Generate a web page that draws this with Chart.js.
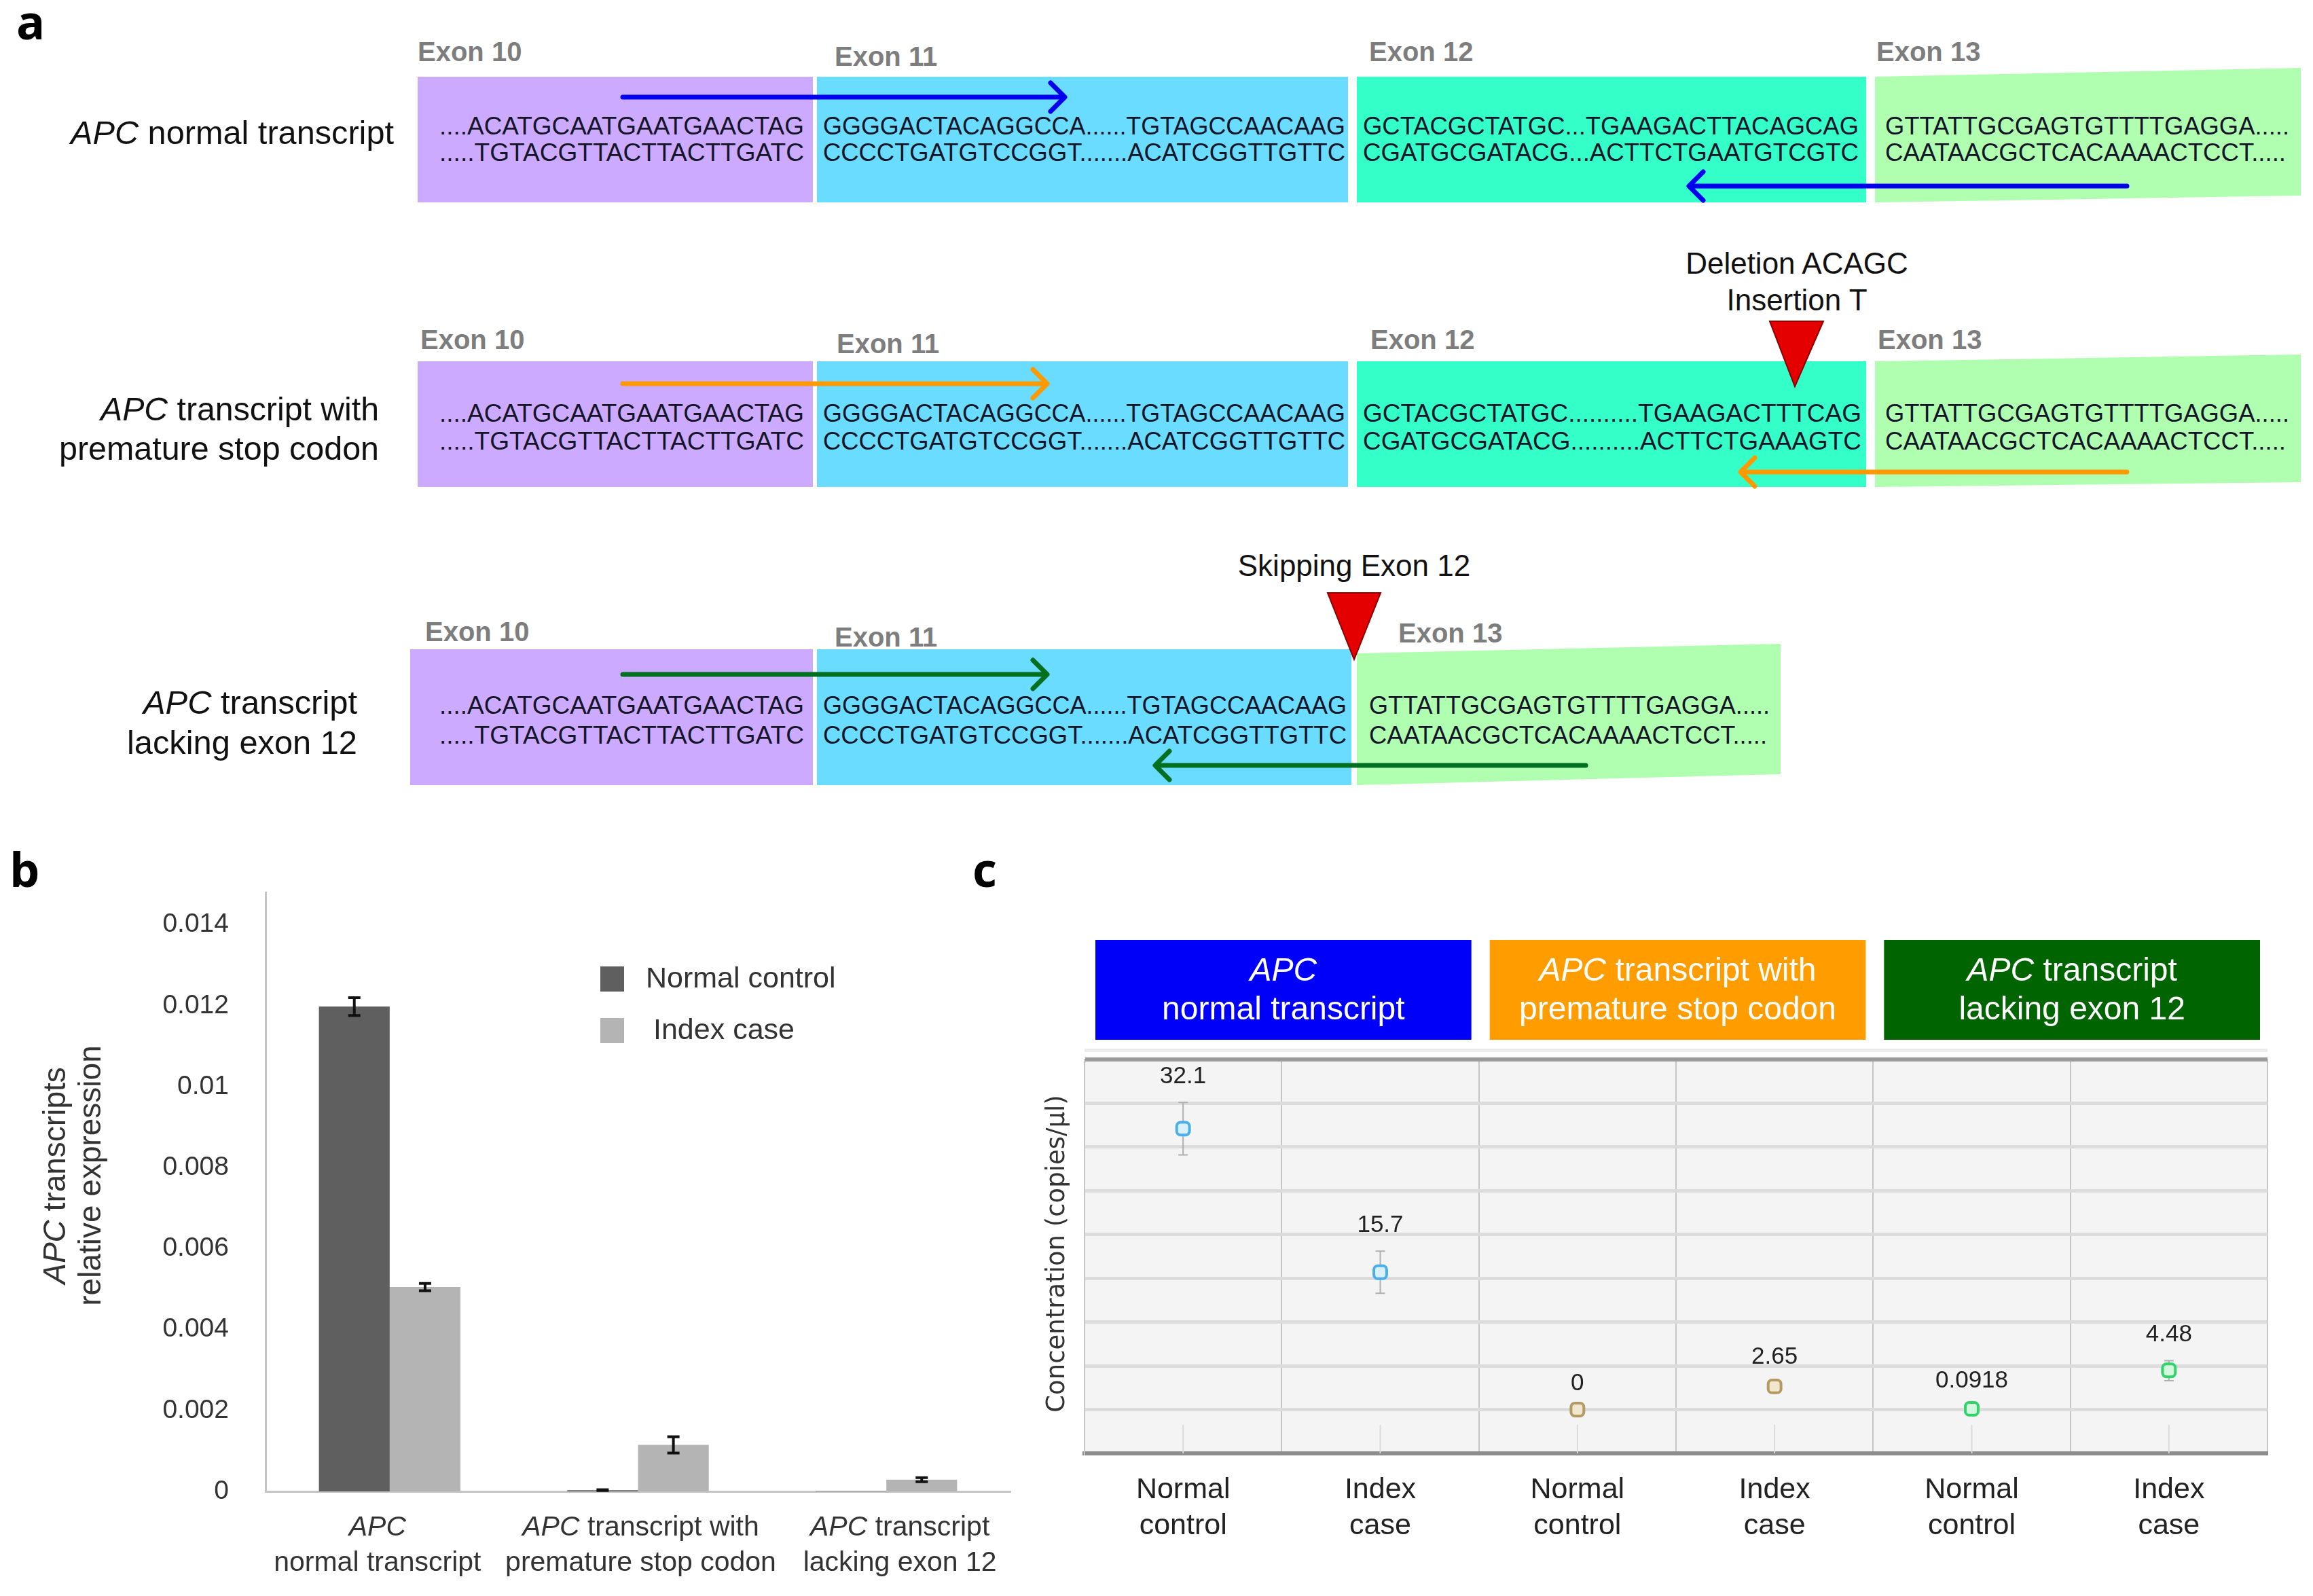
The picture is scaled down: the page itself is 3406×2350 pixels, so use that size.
<!DOCTYPE html>
<html>
<head>
<meta charset="utf-8">
<script src="https://cdn.jsdelivr.net/npm/chart.js@4.4.1/dist/chart.umd.min.js"></script>
<style>
  body { margin: 0; width: 3406px; height: 2350px; background: #fff; position: relative; overflow: hidden;
         font-family: "Liberation Sans", Arial, sans-serif; }
  .tag { position: absolute; font-family: "Open Sans", sans-serif; font-weight: 700; font-size: 70px; line-height: 1; color: #000; }
  #diagram { position: absolute; left: 0; top: 0; }
  #wrapB { position: absolute; left: 0; top: 1250px; width: 1530px; height: 1100px; }
  #wrapC { position: absolute; left: 1420px; top: 1250px; width: 1986px; height: 1100px; }
</style>
</head>
<body>

<svg id="diagram" width="3406" height="1180" viewBox="0 0 3406 1180" font-family="Liberation Sans, Arial, sans-serif">
  <!-- row 1: normal transcript -->
  <text x="104" y="195" dominant-baseline="central" font-size="48" fill="#111" textLength="476" lengthAdjust="spacingAndGlyphs"><tspan font-style="italic">APC</tspan> normal transcript</text>
  <rect x="615" y="113" width="582" height="185" fill="#ccaaff"/>
  <rect x="1203" y="113" width="782" height="185" fill="#6adcff"/>
  <rect x="1998" y="113" width="750" height="185" fill="#35ffc8"/>
  <polygon points="2761,113 3388,100 3388,288 2761,298" fill="#b0ffb0"/>
  <g font-size="40" font-weight="bold" fill="#7d7d7d" dominant-baseline="central">
    <text x="615" y="76">Exon 10</text><text x="1229" y="83">Exon 11</text>
    <text x="2016" y="76">Exon 12</text><text x="2763" y="76">Exon 13</text>
  </g>
  <g font-size="37" fill="#15152a" dominant-baseline="central">
    <text x="647" y="185" textLength="537" lengthAdjust="spacingAndGlyphs">....ACATGCAATGAATGAACTAG</text>
    <text x="647" y="224" textLength="537" lengthAdjust="spacingAndGlyphs">.....TGTACGTTACTTACTTGATC</text>
    <text x="1212" y="185" textLength="769" lengthAdjust="spacingAndGlyphs">GGGGACTACAGGCCA......TGTAGCCAACAAG</text>
    <text x="1212" y="224" textLength="769" lengthAdjust="spacingAndGlyphs">CCCCTGATGTCCGGT.......ACATCGGTTGTTC</text>
    <text x="2007" y="185" textLength="730" lengthAdjust="spacingAndGlyphs">GCTACGCTATGC...TGAAGACTTACAGCAG</text>
    <text x="2007" y="224" textLength="730" lengthAdjust="spacingAndGlyphs">CGATGCGATACG...ACTTCTGAATGTCGTC</text>
    <text x="2776" y="185" textLength="595" lengthAdjust="spacingAndGlyphs">GTTATTGCGAGTGTTTTGAGGA.....</text>
    <text x="2776" y="224" textLength="590" lengthAdjust="spacingAndGlyphs">CAATAACGCTCACAAAACTCCT.....</text>
  </g>
  <g stroke="#0000ee" stroke-width="7" fill="none" stroke-linecap="round" stroke-linejoin="round">
    <line x1="917" y1="143" x2="1566" y2="143"/><polyline points="1547,122 1568,143 1547,164"/>
    <line x1="3132" y1="274" x2="2489" y2="274"/><polyline points="2508,253 2487,274 2508,295"/>
  </g>

  <!-- row 2: premature stop codon -->
  <text x="148" y="602" dominant-baseline="central" font-size="48" fill="#111" textLength="410" lengthAdjust="spacingAndGlyphs"><tspan font-style="italic">APC</tspan> transcript with</text>
  <text x="87" y="660" dominant-baseline="central" font-size="48" fill="#111" textLength="471" lengthAdjust="spacingAndGlyphs">premature stop codon</text>
  <rect x="615" y="532" width="582" height="185" fill="#ccaaff"/>
  <rect x="1203" y="532" width="782" height="185" fill="#6adcff"/>
  <rect x="1998" y="532" width="750" height="185" fill="#35ffc8"/>
  <polygon points="2761,532 3388,522 3388,710 2761,717" fill="#b0ffb0"/>
  <g font-size="40" font-weight="bold" fill="#7d7d7d" dominant-baseline="central">
    <text x="619" y="500">Exon 10</text><text x="1232" y="506">Exon 11</text>
    <text x="2018" y="500">Exon 12</text><text x="2765" y="500">Exon 13</text>
  </g>
  <g font-size="37" fill="#15152a" dominant-baseline="central">
    <text x="647" y="608" textLength="537" lengthAdjust="spacingAndGlyphs">....ACATGCAATGAATGAACTAG</text>
    <text x="647" y="649" textLength="537" lengthAdjust="spacingAndGlyphs">.....TGTACGTTACTTACTTGATC</text>
    <text x="1212" y="608" textLength="769" lengthAdjust="spacingAndGlyphs">GGGGACTACAGGCCA......TGTAGCCAACAAG</text>
    <text x="1212" y="649" textLength="769" lengthAdjust="spacingAndGlyphs">CCCCTGATGTCCGGT.......ACATCGGTTGTTC</text>
    <text x="2007" y="608" textLength="734" lengthAdjust="spacingAndGlyphs">GCTACGCTATGC..........TGAAGACTTTCAG</text>
    <text x="2007" y="649" textLength="734" lengthAdjust="spacingAndGlyphs">CGATGCGATACG..........ACTTCTGAAAGTC</text>
    <text x="2776" y="608" textLength="595" lengthAdjust="spacingAndGlyphs">GTTATTGCGAGTGTTTTGAGGA.....</text>
    <text x="2776" y="649" textLength="590" lengthAdjust="spacingAndGlyphs">CAATAACGCTCACAAAACTCCT.....</text>
  </g>
  <g stroke="#ff9900" stroke-width="7" fill="none" stroke-linecap="round" stroke-linejoin="round">
    <line x1="917" y1="565" x2="1540" y2="565"/><polyline points="1521,544 1542,565 1521,586"/>
    <line x1="3132" y1="695" x2="2565" y2="695"/><polyline points="2584,674 2563,695 2584,716"/>
  </g>
  <polygon points="2606,473 2685,473 2643,569" fill="#e40000" stroke="#8a0000" stroke-width="2"/>
  <g font-size="44" fill="#111" text-anchor="middle" dominant-baseline="central">
    <text x="2646" y="387">Deletion ACAGC</text>
    <text x="2646" y="441">Insertion T</text>
  </g>

  <!-- row 3: lacking exon 12 -->
  <text x="211" y="1034" dominant-baseline="central" font-size="48" fill="#111" textLength="315" lengthAdjust="spacingAndGlyphs"><tspan font-style="italic">APC</tspan> transcript</text>
  <text x="187" y="1093" dominant-baseline="central" font-size="48" fill="#111" textLength="339" lengthAdjust="spacingAndGlyphs">lacking exon 12</text>
  <rect x="604" y="956" width="593" height="200" fill="#ccaaff"/>
  <rect x="1203" y="956" width="787" height="200" fill="#6adcff"/>
  <polygon points="1998,962 2622,948 2622,1140 1998,1156" fill="#b0ffb0"/>
  <g font-size="40" font-weight="bold" fill="#7d7d7d" dominant-baseline="central">
    <text x="626" y="930">Exon 10</text><text x="1229" y="938">Exon 11</text>
    <text x="2059" y="932">Exon 13</text>
  </g>
  <g font-size="37" fill="#15152a" dominant-baseline="central">
    <text x="647" y="1038" textLength="537" lengthAdjust="spacingAndGlyphs">....ACATGCAATGAATGAACTAG</text>
    <text x="647" y="1082" textLength="537" lengthAdjust="spacingAndGlyphs">.....TGTACGTTACTTACTTGATC</text>
    <text x="1212" y="1038" textLength="771" lengthAdjust="spacingAndGlyphs">GGGGACTACAGGCCA......TGTAGCCAACAAG</text>
    <text x="1212" y="1082" textLength="771" lengthAdjust="spacingAndGlyphs">CCCCTGATGTCCGGT.......ACATCGGTTGTTC</text>
    <text x="2016" y="1038" textLength="590" lengthAdjust="spacingAndGlyphs">GTTATTGCGAGTGTTTTGAGGA.....</text>
    <text x="2016" y="1082" textLength="586" lengthAdjust="spacingAndGlyphs">CAATAACGCTCACAAAACTCCT.....</text>
  </g>
  <g stroke="#007020" stroke-width="7" fill="none" stroke-linecap="round" stroke-linejoin="round">
    <line x1="917" y1="993" x2="1540" y2="993"/><polyline points="1521,972 1542,993 1521,1014"/>
    <line x1="2335" y1="1127" x2="1703" y2="1127"/><polyline points="1722,1106 1701,1127 1722,1148"/>
  </g>
  <polygon points="1955,873 2033,873 1994,971" fill="#e40000" stroke="#8a0000" stroke-width="2"/>
  <text x="1994" y="832" font-size="44" fill="#111" text-anchor="middle" dominant-baseline="central">Skipping Exon 12</text>
</svg>

<div class="tag" style="left:24px;top:-4px;">a</div>
<div class="tag" style="left:14px;top:1244px;">b</div>
<div class="tag" style="left:1432px;top:1244px;">c</div>

<div id="wrapB"><canvas id="chartB" width="1530" height="1100"></canvas></div>
<div id="wrapC"><canvas id="chartC" width="1986" height="1100"></canvas></div>

<script>
// ---- panel b : relative expression (qPCR) ----
const transcripts = ['APC normal transcript', 'APC transcript with premature stop codon', 'APC transcript lacking exon 12'];
const firstLineRest = ['', ' transcript with', ' transcript'];   // follows the italic "APC"
const secondLine = ['normal transcript', 'premature stop codon', 'lacking exon 12'];

const normalControl = [0.01198, 0.00003, 0.00001];
const normalControlErr = [0.00022, 0.00001, 0];
const indexCase = [0.00505, 0.00115, 0.00029];
const indexCaseErr = [0.00009, 0.0002, 0.00005];

const expressionTicks = [0, 0.002, 0.004, 0.006, 0.008, 0.01, 0.012, 0.014];
const expressionTickLabels = ['0', '0.002', '0.004', '0.006', '0.008', '0.01', '0.012', '0.014'];

// ---- panel c : droplet digital PCR concentrations ----
const samples = [['Normal', 'control'], ['Index', 'case'], ['Normal', 'control'], ['Index', 'case'], ['Normal', 'control'], ['Index', 'case']];
const concentration = [32.1, 15.7, 0, 2.65, 0.0918, 4.48];
const concLow = [29.1, 13.3, 0, 2.25, 0, 3.3];
const concHigh = [35.1, 18.1, 0, 3.05, 0.3, 5.6];
const concText = ['32.1', '15.7', '0', '2.65', '0.0918', '4.48'];
const concTicks = [-5, 0, 5, 10, 15, 20, 25, 30, 35, 40];

const FONT = '"Liberation Sans", Arial, sans-serif';
Chart.defaults.font.family = FONT;
Chart.defaults.color = '#222';

function drawRich(ctx, parts, x, y, size, color) {
  ctx.save();
  ctx.fillStyle = color;
  ctx.textBaseline = 'middle';
  ctx.textAlign = 'left';
  const fonts = parts.map(p => (p[1] ? 'italic ' : '') + size + 'px ' + FONT);
  let total = 0;
  parts.forEach((p, i) => { ctx.font = fonts[i]; total += ctx.measureText(p[0]).width; });
  let cx = x - total / 2;
  parts.forEach((p, i) => { ctx.font = fonts[i]; ctx.fillText(p[0], cx, y); cx += ctx.measureText(p[0]).width; });
  ctx.restore();
}

const labelShift = [-18, 4, 20];

const barExtras = {
  id: 'barExtras',
  afterDatasetsDraw(chart) {
    const { ctx } = chart;
    const y = chart.scales.y;
    const errs = [normalControlErr, indexCaseErr];
    chart.data.datasets.forEach((ds, i) => {
      chart.getDatasetMeta(i).data.forEach((bar, j) => {
        const e = errs[i][j];
        if (!e) return;
        const top = y.getPixelForValue(ds.data[j] + e);
        const bot = y.getPixelForValue(ds.data[j] - e);
        ctx.save();
        ctx.strokeStyle = '#111';
        ctx.lineWidth = 4;
        ctx.beginPath();
        ctx.moveTo(bar.x, top); ctx.lineTo(bar.x, bot);
        ctx.moveTo(bar.x - 9, top); ctx.lineTo(bar.x + 9, top);
        ctx.moveTo(bar.x - 9, bot); ctx.lineTo(bar.x + 9, bot);
        ctx.stroke();
        ctx.restore();
      });
    });
  },
  afterDraw(chart) {
    const { ctx, chartArea } = chart;
    const x = chart.scales.x;
    // category labels
    transcripts.forEach((t, i) => {
      const cx = x.getPixelForValue(i) + labelShift[i];
      drawRich(ctx, [['APC', true], [firstLineRest[i], false]], cx, chartArea.bottom + 54, 41, '#333');
      drawRich(ctx, [[secondLine[i], false]], cx, chartArea.bottom + 106, 41, '#333');
    });
    // legend
    chart.data.datasets.forEach((ds, i) => {
      const lx = chartArea.left + 493;
      const ly = chartArea.top + 109 + i * 76;
      ctx.save();
      ctx.fillStyle = ds.backgroundColor;
      ctx.fillRect(lx, ly, 35, 37);
      ctx.fillStyle = '#333';
      ctx.font = '43px ' + FONT;
      ctx.textBaseline = 'middle';
      ctx.fillText(ds.label, lx + 67 + i * 11, ly + 19);
      ctx.restore();
    });
    // y axis title
    ctx.save();
    ctx.translate(83, (chartArea.top + chartArea.bottom) / 2 - 24);
    ctx.rotate(-Math.PI / 2);
    drawRich(ctx, [['APC', true], [' transcripts', false]], 0, 0, 46, '#333');
    drawRich(ctx, [['relative expression', false]], 0, 52, 46, '#333');
    ctx.restore();
  }
};

new Chart(document.getElementById('chartB'), {
  type: 'bar',
  data: {
    labels: transcripts,
    datasets: [
      { label: 'Normal control', data: normalControl, backgroundColor: '#5f5f5f' },
      { label: 'Index case', data: indexCase, backgroundColor: '#b4b4b4' }
    ]
  },
  options: {
    responsive: false,
    animation: false,
    layout: { padding: { top: 64, right: 42, left: 0, bottom: 0 } },
    datasets: { bar: { categoryPercentage: 0.57, barPercentage: 1 } },
    plugins: { legend: { display: false }, tooltip: { enabled: false } },
    scales: {
      x: {
        ticks: { display: false },
        grid: { display: false },
        border: { display: true, color: '#c4c4c4', width: 3 },
        afterFit: s => { s.height = 154; }
      },
      y: {
        min: 0,
        max: 0.0148,
        afterBuildTicks: s => { s.ticks = expressionTicks.map(v => ({ value: v })); },
        ticks: {
          padding: 54,
          font: { size: 39, lineHeight: 0.4 },
          color: '#333',
          callback: (v, i) => expressionTickLabels[i]
        },
        grid: { display: false, drawTicks: false },
        border: { display: true, color: '#c4c4c4', width: 3 },
        afterFit: s => { s.width = 391; }
      }
    }
  },
  plugins: [barExtras]
});

// ---- panel c ----
const groupFill = ['#0000fa', '#ff9c00', '#006400'];
const pointEdge = ['#4aaeea', '#4aaeea', '#b39a62', '#b39a62', '#30d46b', '#30d46b'];
const pointFill = ['#d8f0ff', '#d8f0ff', '#f1e7cf', '#f1e7cf', '#d4f8de', '#d4f8de'];

const ddpcrExtras = {
  id: 'ddpcrExtras',
  beforeDraw(chart) {
    const { ctx, chartArea: a } = chart;
    ctx.save();
    ctx.fillStyle = '#f4f4f4';
    ctx.fillRect(a.left, a.top, a.right - a.left, a.bottom - a.top);
    ctx.fillStyle = '#ececec';
    ctx.fillRect(a.left, a.top - 16, a.right - a.left, 5);
    ctx.restore();
  },
  beforeDatasetsDraw(chart) {
    const { ctx, chartArea: a } = chart;
    const x = chart.scales.x, y = chart.scales.y;
    ctx.save();
    ctx.strokeStyle = '#dadada';
    ctx.lineWidth = 2;
    concentration.forEach((v, i) => {
      const px = x.getPixelForValue(i);
      ctx.beginPath(); ctx.moveTo(px, a.bottom); ctx.lineTo(px, a.bottom - 42); ctx.stroke();
    });
    ctx.strokeStyle = '#b0b0b0';
    concentration.forEach((v, i) => {
      if (concHigh[i] - concLow[i] <= 0) return;
      const px = x.getPixelForValue(i);
      const t = y.getPixelForValue(concHigh[i]), b = y.getPixelForValue(concLow[i]);
      ctx.beginPath();
      ctx.moveTo(px, t); ctx.lineTo(px, b);
      ctx.moveTo(px - 7, t); ctx.lineTo(px + 7, t);
      ctx.moveTo(px - 7, b); ctx.lineTo(px + 7, b);
      ctx.stroke();
    });
    ctx.restore();
  },
  afterDatasetsDraw(chart) {
    const { ctx } = chart;
    const x = chart.scales.x, y = chart.scales.y;
    ctx.save();
    ctx.fillStyle = '#222';
    ctx.font = '35px ' + FONT;
    ctx.textAlign = 'center';
    ctx.textBaseline = 'middle';
    concText.forEach((t, i) => {
      ctx.fillText(t, x.getPixelForValue(i), y.getPixelForValue(concHigh[i]) - 38);
    });
    ctx.restore();
  },
  afterDraw(chart) {
    const { ctx, chartArea: a } = chart;
    const x = chart.scales.x;
    const cat = (a.right - a.left) / samples.length;
    // group headers
    transcripts.forEach((t, g) => {
      const left = x.getPixelForValue(2 * g) - cat / 2 + 16;
      const right = x.getPixelForValue(2 * g + 1) + cat / 2 - 11;
      ctx.save();
      ctx.fillStyle = groupFill[g];
      ctx.fillRect(left, a.top - 176, right - left, 147);
      ctx.restore();
      const cx = (left + right) / 2;
      const line1 = g === 0 ? [['APC', true]] : [['APC', true], [firstLineRest[g], false]];
      drawRich(ctx, line1, cx, a.top - 129, 48, '#fff');
      drawRich(ctx, [[secondLine[g], false]], cx, a.top - 72, 48, '#fff');
    });
    // y title
    ctx.save();
    ctx.translate(137, (a.top + a.bottom) / 2 - 4);
    ctx.rotate(-Math.PI / 2);
    ctx.fillStyle = '#333';
    ctx.font = '37px "DejaVu Sans", sans-serif';
    ctx.textAlign = 'center';
    ctx.textBaseline = 'middle';
    ctx.fillText('Concentration (copies/\u00b5l)', 0, 0);
    ctx.restore();
  }
};

new Chart(document.getElementById('chartC'), {
  type: 'line',
  data: {
    labels: samples,
    datasets: [{
      label: 'Concentration',
      data: concentration,
      showLine: false,
      pointStyle: 'rectRounded',
      pointRadius: 11,
      pointBorderWidth: 4,
      pointBorderColor: pointEdge,
      pointBackgroundColor: pointFill
    }]
  },
  options: {
    responsive: false,
    animation: false,
    layout: { padding: { top: 310, right: 67, left: 0, bottom: 0 } },
    plugins: { legend: { display: false }, tooltip: { enabled: false } },
    scales: {
      x: {
        offset: true,
        ticks: { padding: 27, font: { size: 43, lineHeight: 1.25 }, color: '#222', autoSkip: false, maxRotation: 0 },
        grid: { offset: true, color: '#c6c6c6', lineWidth: 2, drawTicks: false },
        border: { display: true, color: '#8c8c8c', width: 6 },
        afterFit: s => { s.height = 210; }
      },
      y: {
        min: -5,
        max: 40,
        afterBuildTicks: s => { s.ticks = concTicks.map(v => ({ value: v })); },
        ticks: { display: false },
        grid: {
          drawTicks: false,
          color: c => (c.tick && c.tick.value === 40 ? '#9a9a9a' : '#dcdcdc'),
          lineWidth: c => (c.tick && c.tick.value === 40 ? 6 : 5)
        },
        border: { display: true, color: '#c6c6c6', width: 2 },
        afterFit: s => { s.width = 177; }
      }
    }
  },
  plugins: [ddpcrExtras]
});
</script>
</body>
</html>
